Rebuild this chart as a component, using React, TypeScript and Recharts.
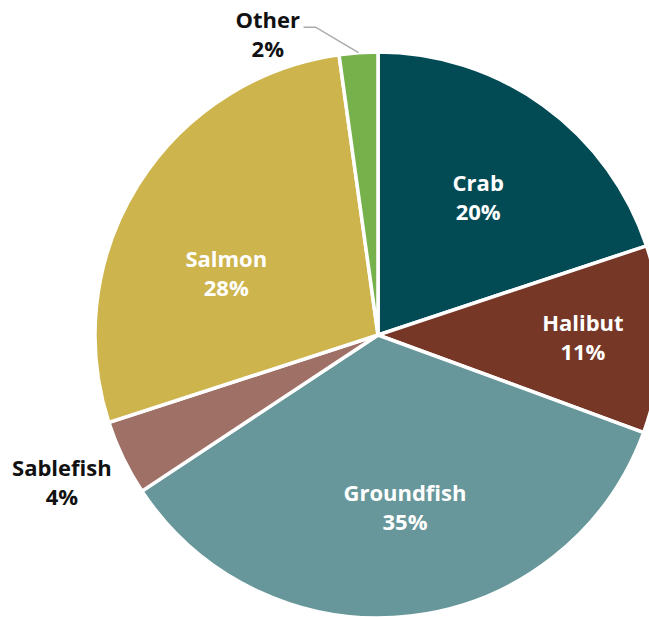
import React from "react";
import { PieChart, Pie, Cell } from "recharts";

const categories = ["Crab", "Halibut", "Groundfish", "Sablefish", "Salmon", "Other"];
const shares = [19.9, 10.7, 35.1, 4.3, 27.8, 2.2];
const colors = ["#024b55", "#763726", "#67979a", "#9f7166", "#cdb44c", "#76b14c"];
// label placement: radius factor relative to outer radius, angle offset (deg), text colour
const labelRadius = [0.605, 0.724, 0.612, 1.23, 0.58, 1.135];
const labelAngleShift = [0, 0.6, 2.3, -1, 9.6, 16.1];
const labelColor = ["#fff", "#fff", "#fff", "#111", "#fff", "#111"];

const data = categories.map((name, i) => ({ name, value: shares[i] }));

const RAD = Math.PI / 180;
const FONT = "'Open Sans', 'DejaVu Sans', sans-serif";

function polar(cx: number, cy: number, r: number, deg: number) {
  return { x: cx + r * Math.cos(-deg * RAD), y: cy + r * Math.sin(-deg * RAD) };
}

function renderLabel(props: any) {
  const { cx, cy, midAngle, outerRadius, index } = props;
  const p = polar(cx, cy, outerRadius * labelRadius[index], midAngle + labelAngleShift[index]);
  const fill = labelColor[index];
  let line = null;
  if (categories[index] === "Other") {
    const s = polar(cx, cy, outerRadius, midAngle);
    const e = polar(cx, cy, outerRadius * 1.11, midAngle + 7.5);
    line = (
      <polyline
        points={`${s.x},${s.y} ${e.x},${e.y} ${e.x - 12},${e.y}`}
        fill="none"
        stroke="#aaaaaa"
        strokeWidth={1.5}
      />
    );
  }
  return (
    <g>
      {line}
      <text x={p.x} y={p.y - 14} textAnchor="middle" dominantBaseline="central" fill={fill}
        fontFamily={FONT} fontWeight={700} fontSize={22}>
        {categories[index]}
      </text>
      <text x={p.x} y={p.y + 15} textAnchor="middle" dominantBaseline="central" fill={fill}
        fontFamily={FONT} fontWeight={700} fontSize={22}>
        {`${Math.round(shares[index])}%`}
      </text>
    </g>
  );
}

export default function App() {
  return (
    <div style={{ position: "absolute", left: 0, top: 0, width: 649, height: 617, background: "#fff" }}>
      <PieChart width={649} height={617} margin={{ top: 0, right: 0, bottom: 0, left: 0 }}>
        <Pie
          data={data}
          dataKey="value"
          nameKey="name"
          cx={378}
          cy={335}
          outerRadius={283}
          startAngle={90}
          endAngle={-270}
          stroke="#ffffff"
          strokeWidth={3.5}
          label={renderLabel}
          labelLine={false}
          isAnimationActive={false}
        >
          {data.map((d, i) => (
            <Cell key={d.name} fill={colors[i]} />
          ))}
        </Pie>
      </PieChart>
    </div>
  );
}
